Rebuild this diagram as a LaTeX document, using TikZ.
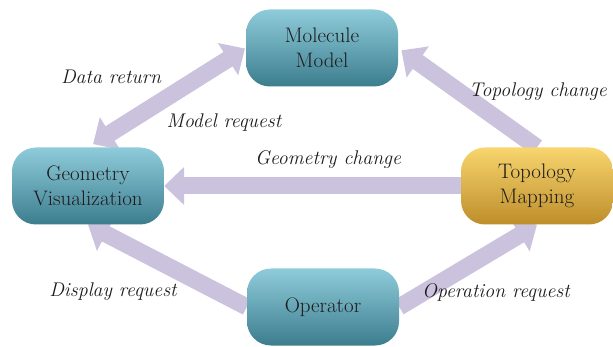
\documentclass[tikz,border=0pt]{standalone}
\usetikzlibrary{arrows.meta,backgrounds}

\definecolor{tealtop}{HTML}{8FCCDA}
\definecolor{tealmid}{HTML}{5AAEC3}
\definecolor{tealbot}{HTML}{3C7D8E}
\definecolor{goldtop}{HTML}{F8D56E}
\definecolor{goldmid}{HTML}{F5BF2F}
\definecolor{goldbot}{HTML}{BD8E2B}
\definecolor{flowcol}{HTML}{CBC2DD}
\definecolor{inkcol}{HTML}{1E1B1C}

\tikzset{
  procbox/.style={rounded corners=24pt, minimum width=152pt, minimum height=77pt,
    align=center, text=inkcol, inner sep=0pt,
    font=\fontsize{21}{25}\selectfont},
  tealbox/.style={procbox, top color=tealtop, middle color=tealmid, bottom color=tealbot},
  goldbox/.style={procbox, top color=goldtop, middle color=goldmid, bottom color=goldbot},
  flow/.style={draw=flowcol, line width=17pt,
    -{Triangle[width=37pt,length=20pt]}},
  flowboth/.style={flow, {Triangle[width=37pt,length=20pt]}-{Triangle[width=37pt,length=20pt]}},
  flowlabel/.style={text=inkcol, font=\fontsize{19.8}{22}\selectfont\itshape, inner sep=0pt}
}

\begin{document}
\begin{tikzpicture}[x=1pt,y=-1pt]
  \useasboundingbox (0,0) rectangle (613,347);

  % processing stages
  \node[tealbox] (mm) at (322,48)  {Molecule\\Model};
  \node[tealbox] (gv) at (88,186)  {Geometry\\Visualization};
  \node[goldbox] (tm) at (537,186) {Topology\\Mapping};
  \node[tealbox] (op) at (323,307) {Operator};

  % data flows, kept behind the stages
  \begin{scope}[on background layer]
    \draw[flowboth, shorten <=6pt, shorten >=1pt] (gv.north) -- (mm.west);
    \draw[flow, shorten >=4pt] (tm.north) -- (mm.east);
    \draw[flow] (tm.west) -- (gv.east);
    \draw[flow] (op.west) -- (gv.south);
    \draw[flow] (op.east) -- (tm.south);
  \end{scope}

  % flow labels
  \node[flowlabel] (l1) at (111,77)  {Data return};
  \node[flowlabel] (l2) at (224,123) {Model request};
  \node[flowlabel] (l3) at (538,92)  {Topology change};
  \node[flowlabel] (l4) at (328,160) {Geometry change};
  \node[flowlabel] (l5) at (113,292) {Display request};
  \node[flowlabel] (l6) at (496,292) {Operation request};
\end{tikzpicture}
\end{document}
